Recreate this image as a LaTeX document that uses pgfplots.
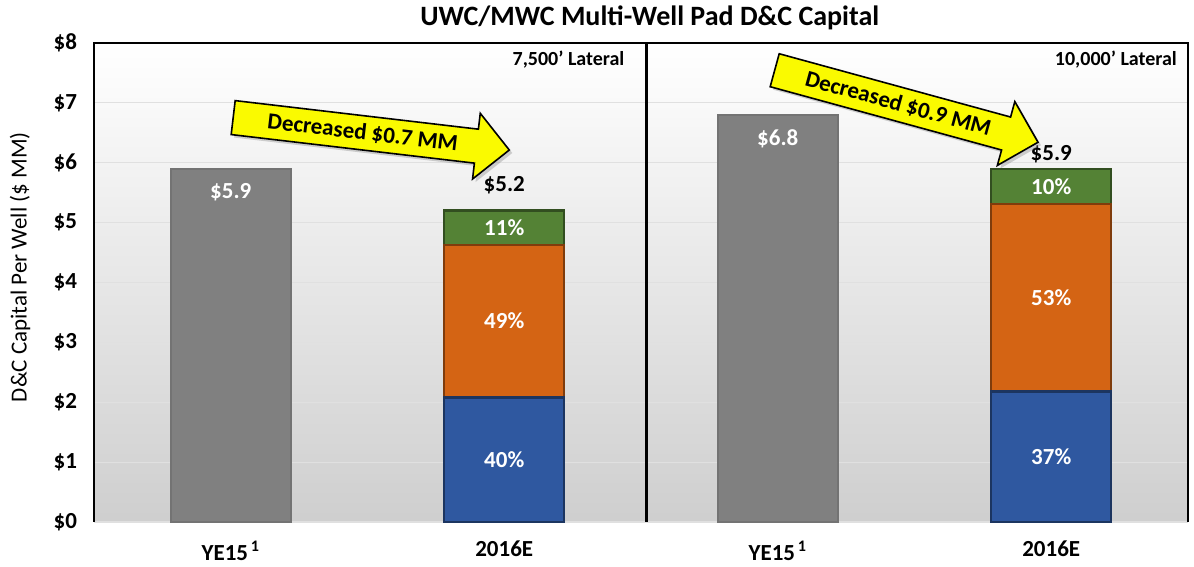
\documentclass[border=0pt]{standalone}
\usepackage{fontspec}
\setmainfont{Carlito}
\usepackage{pgfplots}
\pgfplotsset{compat=1.18}
\usetikzlibrary{shapes.arrows,shadows}

\definecolor{barGray}{RGB}{128,128,128}
\definecolor{barBlue}{RGB}{47,88,160}
\definecolor{barOrange}{RGB}{212,100,20}
\definecolor{barGreen}{RGB}{84,130,53}
\definecolor{arrowYellow}{RGB}{250,250,0}

\pgfplotsset{
  panel/.style={
    scale only axis, width=547pt, height=239.5pt,
    xmin=-0.5, xmax=3.5, ymin=0, ymax=8,
    clip=false,
  },
}
\newcommand{\lbl}{\fontsize{11.5}{13}\selectfont\bfseries}

\begin{document}
\begin{tikzpicture}
% background, grid, ticks and the YE15 bars
\begin{axis}[panel,
  axis background/.style={shade, top color=white, bottom color=black!19},
  axis line style={draw=none},
  ymajorgrids, grid style={black!12, line width=0.6pt},
  ytick={0,...,8},
  yticklabels={\$0,\$1,\$2,\$3,\$4,\$5,\$6,\$7,\$8},
  xtick={0,1,2,3},
  xticklabels={YE15\textsuperscript{\,1},2016E,YE15\textsuperscript{\,1},2016E},
  major tick length=0pt,
  tick label style={font=\lbl},
  yticklabel style={xshift=-5pt},
  xticklabel style={yshift=-6pt},
  ylabel={D\&C Capital Per Well (\$ MM)},
  ylabel style={font=\fontsize{11.5}{13}\selectfont, at={(rel axis cs:0,0.532)}, yshift=37pt, anchor=center},
  ybar, bar width=60pt,
]
\addplot[fill=barGray, draw=black!55, line width=1.2pt] coordinates {(0,5.9) (2,6.8)};

\draw[black, line width=0.6pt] (rel axis cs:0,0) -- (rel axis cs:0,1) -- (rel axis cs:1,1) -- (rel axis cs:1,0);
\draw[black, line width=1.8pt] (axis cs:1.52,0) -- (axis cs:1.52,8);

\node[font=\fontsize{14}{16}\selectfont\bfseries] at (rel axis cs:0.508,1) [yshift=12.5pt] {UWC/MWC Multi-Well Pad D\&C Capital};
\node[font=\fontsize{10}{12}\selectfont\bfseries, anchor=east] at (axis cs:1.465,7.72) {7,500’ Lateral};
\node[font=\fontsize{10}{12}\selectfont\bfseries, anchor=east] at (axis cs:3.485,7.72) {10,000’ Lateral};

\node[font=\lbl, white, anchor=north, yshift=-4pt] at (axis cs:0,5.9) {\$5.9};
\node[font=\lbl, white, anchor=north, yshift=-4pt] at (axis cs:2,6.8) {\$6.8};
\end{axis}

% 2016E stacked bars
\begin{axis}[panel, hide axis, ybar stacked, bar width=60pt]
\addplot[fill=barBlue, draw=barBlue!60!black, line width=1.2pt] coordinates {(1,2.08) (3,2.18)};
\addplot[fill=barOrange, draw=barOrange!60!black, line width=1.2pt] coordinates {(1,2.55) (3,3.13)};
\addplot[fill=barGreen, draw=barGreen!60!black, line width=1.2pt] coordinates {(1,0.57) (3,0.59)};
\end{axis}

% labels and arrows on top
\begin{axis}[panel, hide axis]
\node[font=\lbl, white] at (axis cs:1,1.04) {40\%};
\node[font=\lbl, white] at (axis cs:1,3.36) {49\%};
\node[font=\lbl, white] at (axis cs:1,4.92) {11\%};
\node[font=\lbl, white] at (axis cs:3,1.09) {37\%};
\node[font=\lbl, white] at (axis cs:3,3.74) {53\%};
\node[font=\lbl, white] at (axis cs:3,5.6) {10\%};

\node[font=\lbl, anchor=south, yshift=5pt] at (axis cs:1,5.2) {\$5.2};
\node[font=\lbl, anchor=south, yshift=-0.5pt] at (axis cs:3,5.9) {\$5.9};

\node[single arrow, draw=black, line width=0.8pt, fill=arrowYellow,
  single arrow head extend=8pt, minimum height=139pt, minimum width=31pt,
  inner ysep=3.5pt, inner xsep=4pt, rotate=-6.7, anchor=tail, font=\lbl,
  drop shadow={opacity=0.35, shadow xshift=1.5pt, shadow yshift=-1.5pt}]
  at (axis cs:0.006,6.756) {Decreased \$0.7 MM};
\node[single arrow, draw=black, line width=0.8pt, fill=arrowYellow,
  single arrow head extend=8pt, minimum height=136.5pt, minimum width=31pt,
  inner ysep=3.5pt, inner xsep=4pt, rotate=-15.3, anchor=tail, font=\lbl,
  drop shadow={opacity=0.35, shadow xshift=1.5pt, shadow yshift=-1.5pt}]
  at (axis cs:1.986,7.549) {Decreased \$0.9 MM};
\end{axis}
\pgfresetboundingbox
\useasboundingbox (-47pt,-22.5pt) rectangle (550pt,261pt);
\end{tikzpicture}
\end{document}
